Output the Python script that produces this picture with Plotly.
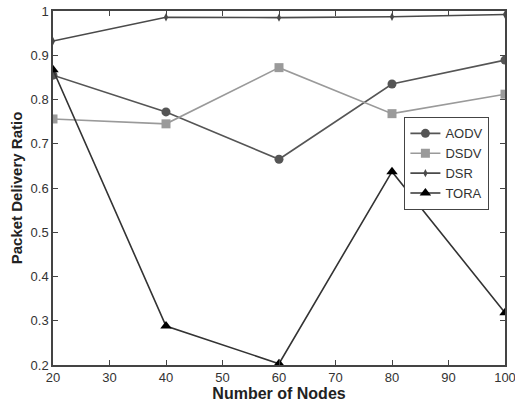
import plotly.graph_objects as go

nodes = [20, 40, 60, 80, 100]
aodv = [0.855, 0.772, 0.665, 0.835, 0.889]
dsdv = [0.756, 0.745, 0.872, 0.768, 0.812]
dsr = [0.932, 0.986, 0.985, 0.987, 0.992]
tora = [0.867, 0.288, 0.203, 0.637, 0.318]

series = [
    ("AODV", aodv, "#555555", "#555555", "circle", 9),
    ("DSDV", dsdv, "#9a9a9a", "#9a9a9a", "square", 9),
    ("DSR", dsr, "#4a4a4a", "#4a4a4a", "diamond-tall", 6),
    ("TORA", tora, "#333333", "#000000", "triangle-up", 10),
]

fig = go.Figure()
for name, vals, lc, mc, sym, sz in series:
    fig.add_trace(go.Scatter(
        x=nodes, y=vals, name=name, mode="lines+markers",
        line=dict(color=lc, width=1.6),
        marker=dict(symbol=sym, size=sz, color=mc),
    ))

axis_common = dict(
    showline=True, linecolor="#444444", linewidth=1.5, mirror="ticks",
    ticks="inside", ticklen=5, tickcolor="#444444", showgrid=False,
    zeroline=False, automargin=False, ticklabeloverflow="allow",
    tickfont=dict(family="Liberation Sans", size=13, color="#333333"),
)

fig.update_layout(
    width=515, height=406,
    margin=dict(l=53, r=10, t=11, b=41),
    paper_bgcolor="white", plot_bgcolor="white",
    xaxis=dict(range=[20, 100], dtick=10,
               title=dict(text="<b>Number of Nodes</b>", standoff=2,
                          font=dict(family="Liberation Sans", size=16, color="#222222")),
               **axis_common),
    yaxis=dict(range=[0.2, 1.0], dtick=0.1, tickformat="~g",
               title=dict(text="<b>Packet Delivery Ratio</b>", standoff=4,
                          font=dict(family="Liberation Sans", size=15, color="#222222")),
               **axis_common),
    legend=dict(x=0.777, y=0.70, xanchor="left", yanchor="top",
                bgcolor="white", bordercolor="#444444", borderwidth=1.2,
                font=dict(family="Liberation Sans", size=13, color="#333333"),
                tracegroupgap=0, itemwidth=30),
    showlegend=True,
)

fig.write_html("out.html")
